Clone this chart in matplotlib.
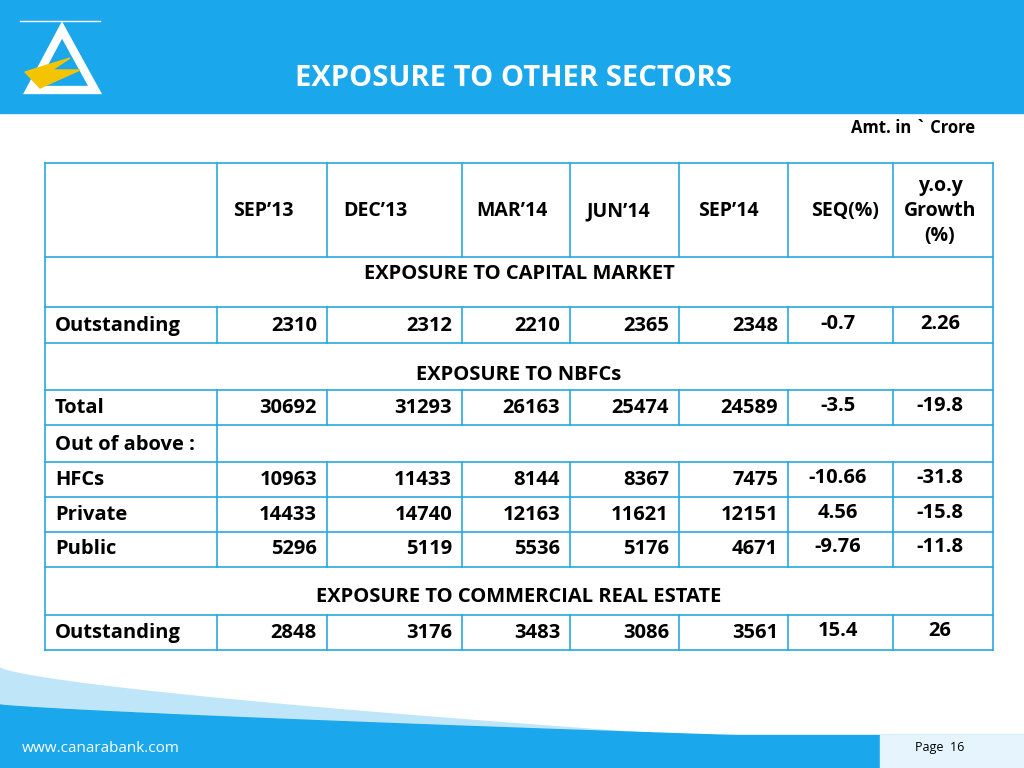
import matplotlib
matplotlib.use("Agg")
import matplotlib.pyplot as plt
import numpy as np
from matplotlib.patches import Rectangle, Polygon

title = "EXPOSURE TO OTHER SECTORS"
unit_note = "Amt. in ` Crore"
columns = ["SEP\u201913", "DEC\u201913", "MAR\u201914", "JUN\u201914", "SEP\u201914", "SEQ(%)", "y.o.y\nGrowth\n(%)"]
sec_capital = "EXPOSURE TO CAPITAL MARKET"
sec_nbfc = "EXPOSURE TO NBFCs"
sec_cre = "EXPOSURE TO COMMERCIAL REAL ESTATE"
cap_outstanding = [2310, 2312, 2210, 2365, 2348, "-0.7", "2.26"]
nbfc_total = [30692, 31293, 26163, 25474, 24589, "-3.5", "-19.8"]
nbfc_hfcs = [10963, 11433, 8144, 8367, 7475, "-10.66", "-31.8"]
nbfc_private = [14433, 14740, 12163, 11621, 12151, "4.56", "-15.8"]
nbfc_public = [5296, 5119, 5536, 5176, 4671, "-9.76", "-11.8"]
cre_outstanding = [2848, 3176, 3483, 3086, 3561, "15.4", "26"]

BLUE = "#1aa7ec"
LINE = "#29a8e0"
FONT = "Open Sans"

fig = plt.figure(figsize=(10.24, 7.68), dpi=100)
ax = fig.add_axes([0, 0, 1, 1])
ax.set_xlim(0, 1024); ax.set_ylim(768, 0); ax.axis("off")

# header
ax.add_patch(Rectangle((0, 0), 1024, 113, color=BLUE, zorder=0))
ax.plot([20, 100], [21, 21], color="white", lw=1)
ax.add_patch(Polygon([[62, 30], [30, 90], [95, 90]], closed=True, fill=False, ec="white", lw=6))
ax.add_patch(Polygon([[25, 72], [70, 58], [52, 70], [80, 70], [40, 88]], closed=True, color="#f5c400"))
ax.text(513, 78, title, ha="center", va="center", color="white", fontsize=21, fontweight="bold", family=FONT)
ax.text(975, 128, unit_note, ha="right", va="center", fontsize=12, fontweight="bold", family=FONT)

# table
xs = [45, 217, 327, 462, 570, 679, 788, 893, 993]
hl = [163, 257, 307, 343, 390, 425, 462, 497, 532, 567, 615, 650]
for y in hl:
    ax.plot([45, 993], [y, y], color=LINE, lw=1.2)
ax.plot([45, 45], [163, 650], color=LINE, lw=1.2)
ax.plot([993, 993], [163, 650], color=LINE, lw=1.2)
vspans = [(163, 257), (307, 343), (390, 425), (462, 567), (615, 650)]
for (a, b) in vspans:
    for x in xs[1:-1]:
        ax.plot([x, x], [a, b], color=LINE, lw=1.2)
ax.plot([217, 217], [425, 462], color=LINE, lw=1.2)

fs = 14.5
hx = [263, 375, 512, 618, 728, 845, 940]
for x, c in zip(hx, columns):
    ax.text(x, 211, c, ha="center", va="center", fontsize=14, fontweight="bold", family=FONT, linespacing=1.3)
ax.text(519, 274, sec_capital, ha="center", va="center", fontsize=fs, fontweight="bold", family=FONT)
ax.text(519, 375, sec_nbfc, ha="center", va="center", fontsize=fs, fontweight="bold", family=FONT)
ax.text(519, 597, sec_cre, ha="center", va="center", fontsize=fs, fontweight="bold", family=FONT)

def row(y, label, vals):
    ax.text(55, y, label, ha="left", va="center", fontsize=fs, fontweight="bold", family=FONT)
    for i, v in enumerate(vals[:5]):
        ax.text(xs[i + 2] - 10, y, str(v), ha="right", va="center", fontsize=fs, fontweight="bold", family=FONT)
    ax.text(838, y - 2, vals[5], ha="center", va="center", fontsize=fs, fontweight="bold", family=FONT)
    ax.text(940, y - 2, vals[6], ha="center", va="center", fontsize=fs, fontweight="bold", family=FONT)

row(326, "Outstanding", cap_outstanding)
row(408, "Total", nbfc_total)
ax.text(55, 445, "Out of above :", ha="left", va="center", fontsize=fs, fontweight="bold", family=FONT)
row(480, "HFCs", nbfc_hfcs)
row(515, "Private", nbfc_private)
row(549, "Public", nbfc_public)
row(633, "Outstanding", cre_outstanding)

# footer swoosh
t = np.linspace(0, 1024, 300)
top1 = 668 + 90 * (t / 1024) ** 0.7
top2 = 705 + 40 * (t / 1024) ** 0.8
ax.fill_between(t, top1, 768, color="#bfe6f8", zorder=0)
ax.fill_between(t, top2, 768, color=BLUE, zorder=0)
ax.add_patch(Rectangle((0, 735), 1024, 33, color=BLUE, zorder=0))
ax.add_patch(Rectangle((880, 735), 144, 33, color="#e6f5fd", zorder=0))
ax.text(22, 748, "www.canarabank.com", ha="left", va="center", color="white", fontsize=11, family=FONT)
ax.text(964, 748, "Page  16", ha="right", va="center", color="black", fontsize=9, family=FONT)

fig.savefig("out.png", dpi=100)
